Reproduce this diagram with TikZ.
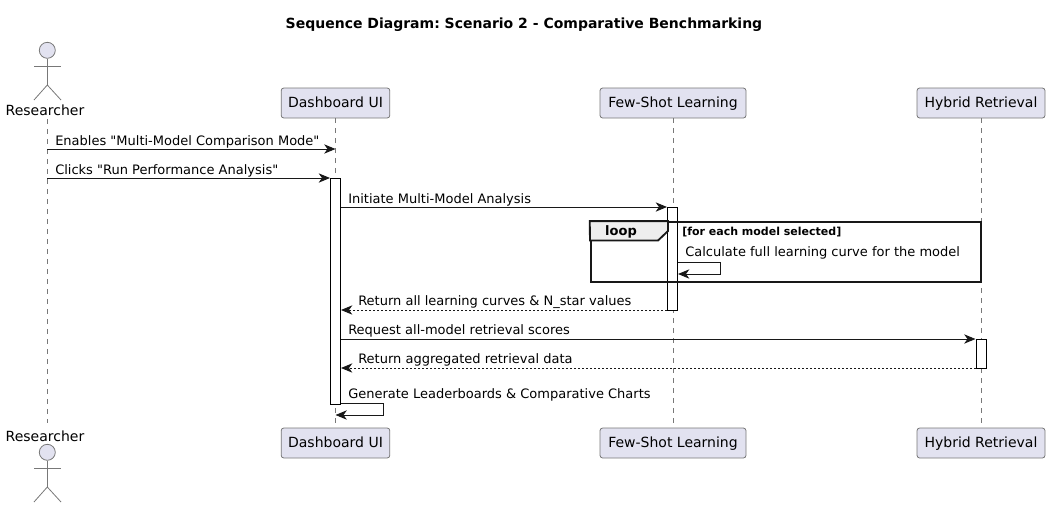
\documentclass[tikz,border=0pt]{standalone}
\usepackage{fontspec}
\setmainfont{DejaVu Sans}
\newfontfamily\msgfont{DejaVu Sans}
\usetikzlibrary{arrows.meta}
\frenchspacing
\definecolor{boxfill}{HTML}{E2E2F0}
\definecolor{inkline}{HTML}{181818}
\definecolor{thinline}{HTML}{787878}
\definecolor{tabfill}{HTML}{EEEEEE}
\tikzset{
  partbox/.style={draw=thinline, line width=0.6pt, fill=boxfill, rounded corners=2pt,
    minimum height=22.5pt, inner xsep=0pt, inner ysep=0pt, text height=14.6pt, text depth=7.9pt,
    font=\fontsize{10.5}{12}\selectfont},
  actorlabel/.style={anchor=base, inner sep=0pt, font=\fontsize{10.5}{12}\selectfont},
  actorhead/.style={circle, draw=thinline, line width=0.6pt, fill=boxfill, minimum size=12pt, inner sep=0pt},
  actorline/.style={draw=thinline, line width=0.6pt},
  lifeline/.style={draw=thinline, line width=0.6pt, dash pattern=on 3.75pt off 3.75pt},
  activebar/.style={draw=black, line width=0.75pt, fill=white, minimum width=7.5pt, inner sep=0pt},
  msg/.style={draw=inkline, line width=0.75pt, -{Stealth[length=8.5pt, width=7pt, inset=2.5pt]}},
  retmsg/.style={msg, dash pattern=on 1.5pt off 1.5pt},
  msglabel/.style={anchor=base west, inner sep=0pt, font=\msgfont\fontsize{9.75}{12}\selectfont},
  loopframe/.style={draw=inkline, line width=1.4pt, inner sep=0pt}
}
\begin{document}
\begin{tikzpicture}[x=0.75pt, y=-0.75pt]
\useasboundingbox (0,0) rectangle (1050,508);

\node [anchor=base, inner sep=0pt, font=\bfseries\fontsize{10.5}{12}\selectfont] (title) at (524,28) {Sequence Diagram: Scenario 2 - Comparative Benchmarking};

\node [actorhead] (rhead) at (47.3,50.3) {};
\node [actorhead] (rfoot) at (47.3,452.3) {};
\node [actorlabel] (rtop) at (45,115) {Researcher};
\node [actorlabel] (rbot) at (45,441) {Researcher};

\node [partbox, minimum width=81.5pt] (dtop) at (335.5,103) {Dashboard UI};
\node [partbox, minimum width=109.5pt] (ftop) at (673,103) {Few-Shot Learning};
\node [partbox, minimum width=96pt] (htop) at (981,103) {Hybrid Retrieval};
\node [partbox, minimum width=81.5pt] (dbot) at (335.5,443) {Dashboard UI};
\node [partbox, minimum width=109.5pt] (fbot) at (673,443) {Few-Shot Learning};
\node [partbox, minimum width=96pt] (hbot) at (981,443) {Hybrid Retrieval};

\coordinate (rarml) at (34,66);
\coordinate (rarmr) at (61,66);
\coordinate (rhip) at (47.3,85);
\coordinate (rlegl) at (34,100);
\coordinate (rlegr) at (61,100);
\draw [actorline] (rhead) -- (rhip);
\draw [actorline] (rarml) -- (rarmr);
\draw [actorline] (rlegl) -- (rhip) -- (rlegr);

\coordinate (sarml) at (34,468);
\coordinate (sarmr) at (61,468);
\coordinate (ship) at (47.3,487);
\coordinate (slegl) at (34,502);
\coordinate (slegr) at (61,502);
\draw [actorline] (rfoot) -- (ship);
\draw [actorline] (sarml) -- (sarmr);
\draw [actorline] (slegl) -- (ship) -- (slegr);

\coordinate (ltop) at (0,119);
\coordinate (lbot) at (0,423);
\draw [lifeline] (rhead |- ltop) -- (rhead |- lbot);
\draw [lifeline] (dtop.south) -- (dtop |- lbot);
\draw [lifeline] (ftop.south) -- (ftop |- lbot);
\draw [lifeline] (htop.south) -- (htop |- lbot);

\node [activebar, minimum height=169.5pt] (dbar) at (335.5,291) {};
\node [activebar, minimum height=77.25pt] (fbar) at (672.5,258.5) {};
\node [activebar, minimum height=21.75pt] (hbar) at (981,353.5) {};

\node [loopframe, minimum width=293pt, minimum height=45pt] (loopbox) at (786,252) {};
\coordinate (tabr) at (668,231);
\coordinate (tabc) at (658,240.5);
\coordinate (tabl) at (590,240.5);
\draw [loopframe, fill=tabfill] (loopbox.north west) -| (tabr) -- (tabc) -- (tabl) -- cycle;
\node [anchor=base, inner sep=0pt, font=\bfseries\fontsize{9.75}{12}\selectfont] (looplabel) at (621,235.5) {loop};
\node [anchor=base west, inner sep=0pt, font=\bfseries\fontsize{8.25}{10}\selectfont] (guard) at (682,235) {[for each model selected]};

\coordinate (y1) at (0,149);
\coordinate (y2) at (0,178);
\coordinate (y3) at (0,207);
\coordinate (y4) at (0,310);
\coordinate (y5) at (0,339);
\coordinate (y6) at (0,368);
\coordinate (s1a) at (720,262);
\coordinate (s1b) at (720,274);
\coordinate (s2a) at (383,403);
\coordinate (s2b) at (383,415);

\draw [msg] (rhead |- y1) -- (dtop |- y1);
\draw [msg] (rhead |- y2) -- (dbar.west |- y2);
\draw [msg] (dbar.east |- y3) -- (fbar.west |- y3);
\draw [msg] (fbar.east |- s1a) -- (s1a) -- (s1b) -- (fbar.east |- s1b);
\draw [retmsg] (fbar.west |- y4) -- (dbar.east |- y4);
\draw [msg] (dbar.east |- y5) -- (hbar.west |- y5);
\draw [retmsg] (hbar.west |- y6) -- (dbar.east |- y6);
\draw [msg] (dbar.east |- s2a) -- (s2a) -- (s2b) -- (dtop |- s2b);

\node [msglabel] (m1) at (55,145) {Enables "Multi-Model Comparison Mode"};
\node [msglabel] (m2) at (55,174) {Clicks "Run Performance Analysis"};
\node [msglabel] (m3) at (348,203) {Initiate Multi-Model Analysis};
\node [msglabel] (m4) at (685,256.5) {Calculate full learning curve for the model};
\node [msglabel] (m5) at (358,305) {Return all learning curves \& N\_star values};
\node [msglabel] (m6) at (348,334) {Request all-model retrieval scores};
\node [msglabel] (m7) at (358,363) {Return aggregated retrieval data};
\node [msglabel] (m8) at (348,398) {Generate Leaderboards \& Comparative Charts};
\end{tikzpicture}
\end{document}
